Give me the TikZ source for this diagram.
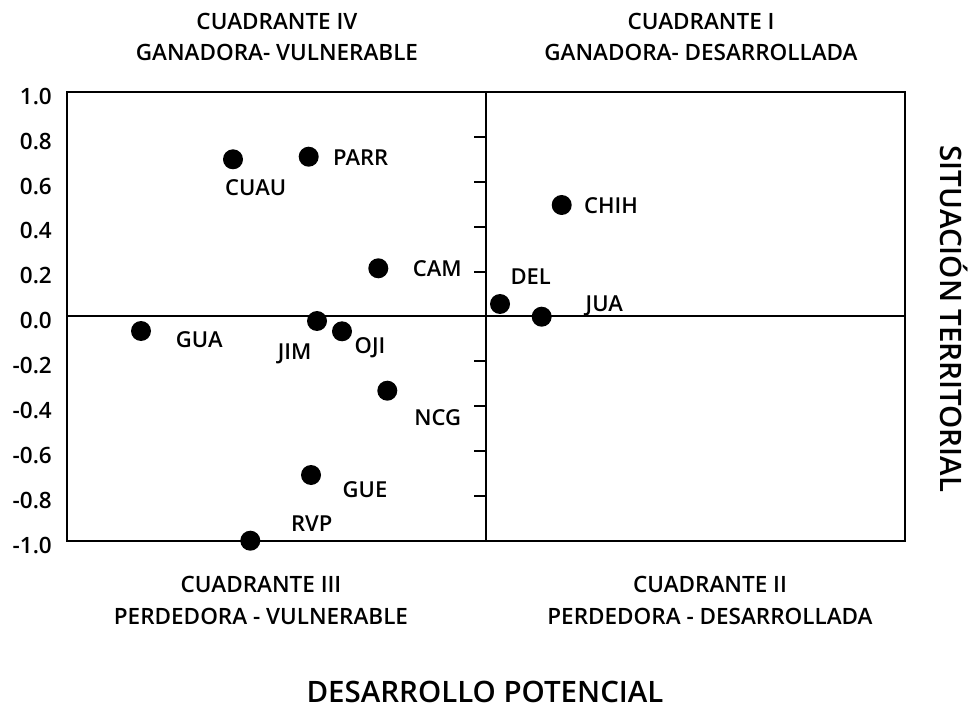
\documentclass[tikz,border=0pt]{standalone}
\usepackage{fontspec}
\setmainfont{Open Sans}[BoldFont={* Semibold}]
\usepackage{tikz}

\begin{document}
\begin{tikzpicture}[x=1pt,y=-1pt,
  dot/.style={circle,fill=black,inner sep=0pt,minimum size=20pt},
  lbl/.style={font=\bfseries\fontsize{22}{26}\selectfont,inner sep=0pt,text height=15.5pt,text depth=0pt},
  num/.style={font=\bfseries\fontsize{22.5}{26}\selectfont,inner sep=0pt,text height=15.5pt,text depth=0pt,anchor=east},
  head/.style={font=\bfseries\fontsize{22.5}{31}\selectfont,align=center,inner sep=0pt},
  foot/.style={font=\bfseries\fontsize{22.5}{32}\selectfont,align=center,inner sep=0pt},
  axis/.style={font=\bfseries\fontsize{29.5}{32}\selectfont,inner sep=0pt,text height=21pt,text depth=0pt}]
  \useasboundingbox (0,0) rectangle (971,708);

  % frame and quadrant lines
  \coordinate (nw) at (67,92);
  \coordinate (se) at (905,541);
  \coordinate (top) at (485.7,92);
  \coordinate (bot) at (485.7,541);
  \coordinate (left) at (67,316.5);
  \coordinate (right) at (905,316.5);
  \draw[line width=2.6pt] (nw) rectangle (se);
  \draw[line width=2pt] (top) -- (bot);
  \draw[line width=2pt] (left) -- (right);
  \foreach \v in {0.8,0.6,0.4,0.2,-0.2,-0.4,-0.6,-0.8}
    \draw[line width=2pt] (474,{316.5-\v*224.5}) -- (485.7,{316.5-\v*224.5});
  \foreach \v/\t in {1/1.0,0.8/0.8,0.6/0.6,0.4/0.4,0.2/0.2,0/0.0,-0.2/-0.2,-0.4/-0.4,-0.6/-0.6,-0.8/-0.8,-1/-1.0}
    \node[num] at (52,{321-\v*224.5}) {\t};

  % points
  \node[dot] (cuau) at (233,159.3) {};
  \node[dot] (parr) at (308.7,156.7) {};
  \node[dot] (cam) at (378.3,268.3) {};
  \node[dot] (del) at (500,304) {};
  \node[dot] (jua) at (541.7,316.7) {};
  \node[dot] (chih) at (561.7,205) {};
  \node[dot] (gua) at (141,331) {};
  \node[dot] (jim) at (317,321) {};
  \node[dot] (oji) at (342,331.3) {};
  \node[dot] (ncg) at (387.3,390.7) {};
  \node[dot] (gue) at (311,475) {};
  \node[dot] (rvp) at (250.3,540.7) {};

  \node[lbl] (cuau-l) at (255.7,187.3) {CUAU};
  \node[lbl] (parr-l) at (360.7,157.3) {PARR};
  \node[lbl] (cam-l) at (437.3,268.3) {CAM};
  \node[lbl] (del-l) at (530.7,276.7) {DEL};
  \node[lbl] (jua-l) at (604.3,303.3) {JUA};
  \node[lbl] (chih-l) at (611,205.7) {CHIH};
  \node[lbl] (gua-l) at (199.3,339.3) {GUA};
  \node[lbl] (jim-l) at (294.7,351.7) {JIM};
  \node[lbl] (oji-l) at (370,345.7) {OJI};
  \node[lbl] (ncg-l) at (437.7,417.3) {NCG};
  \node[lbl] (gue-l) at (365,490) {GUE};
  \node[lbl] (rvp-l) at (311.7,523.3) {RVP};

  % quadrant titles
  \node[head] (q4) at (277,37) {CUADRANTE IV\\GANADORA- VULNERABLE};
  \node[head] (q1) at (701,37) {CUADRANTE I\\GANADORA- DESARROLLADA};
  \node[foot] (q3) at (261,600) {CUADRANTE III\\PERDEDORA - VULNERABLE};
  \node[foot] (q2) at (710,600) {CUADRANTE II\\PERDEDORA - DESARROLLADA};

  % axis titles
  \node[axis] (xname) at (485,692) {DESARROLLO POTENCIAL};
  \node[axis,rotate=-90] (yname) at (951,319) {SITUACIÓN TERRITORIAL};
\end{tikzpicture}
\end{document}
